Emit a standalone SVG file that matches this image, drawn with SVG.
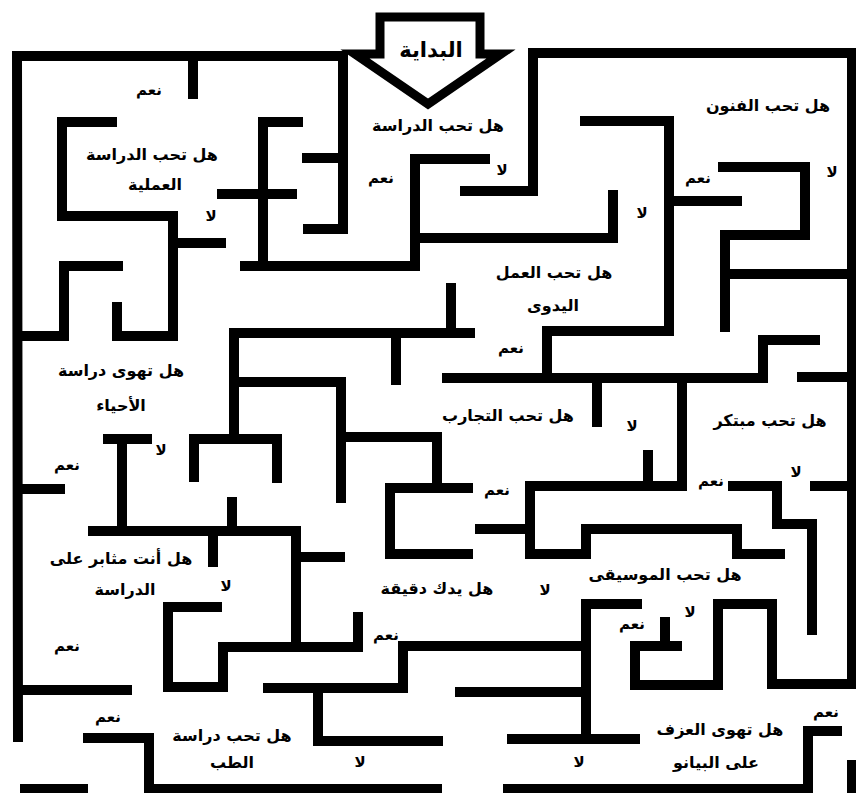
<svg xmlns="http://www.w3.org/2000/svg" width="856" height="793" viewBox="0 0 856 793">
<style>
.w{fill:none;stroke:#000;stroke-width:10;stroke-linecap:square;stroke-linejoin:miter}
.t{font-family:"DejaVu Sans","Noto Sans",sans-serif;font-weight:bold;font-size:16px;fill:#000;text-anchor:middle}
.s{font-size:15px}
.big{font-size:21px}
</style>
<rect width="856" height="793" fill="#fff"/>
<g id="arrow">
<polygon points="380,17 480,17 480,54 501,54 428,104 355,54 380,54" fill="none" stroke="#000" stroke-width="9" stroke-linejoin="miter"/>
<text class="t big" x="431" y="57">البداية</text>
</g>
<g id="walls">
<path class="w" d="M308 229 L343 229 L343 56 L17 56 L18 737"/>
<path class="w" d="M193 56 L193 94"/>
<path class="w" d="M112 122 L62 122 L62 216 L173 216 L173 336 L117 336 L117 307"/>
<path class="w" d="M173 243 L221 243"/>
<path class="w" d="M18 336 L64 336 L64 266 L118 266"/>
<path class="w" d="M298 122 L263 122 L263 266"/>
<path class="w" d="M245 266 L415 266 L415 159 L485 159"/>
<path class="w" d="M222 194 L292 194"/>
<path class="w" d="M307 158 L343 158"/>
<path class="w" d="M415 238 L613 238 L613 195"/>
<path class="w" d="M465 191 L533 191 L533 53 L852 53 L852 684 L772 684 L772 604 L718 604 L718 685 L635 685 L635 646 L677 646"/>
<path class="w" d="M665 646 L665 622"/>
<path class="w" d="M585 121 L669 121 L669 331 L547 331 L547 378"/>
<path class="w" d="M447 378 L763 378 L763 340 L815 340"/>
<path class="w" d="M669 201 L737 201"/>
<path class="w" d="M723 167 L805 167 L805 235 L725 235 L725 327"/>
<path class="w" d="M725 274 L852 274"/>
<path class="w" d="M802 377 L852 377"/>
<path class="w" d="M597 378 L597 422"/>
<path class="w" d="M682 378 L682 486 L530 486 L530 554 L586 554 L586 529 L737 529 L737 554 L780 554"/>
<path class="w" d="M480 529 L530 529"/>
<path class="w" d="M648 455 L648 486"/>
<path class="w" d="M733 486 L777 486 L777 524 L812 524 L812 630"/>
<path class="w" d="M815 486 L852 486"/>
<path class="w" d="M234 439 L234 333 L470 333"/>
<path class="w" d="M451 288 L451 333"/>
<path class="w" d="M396 333 L396 380"/>
<path class="w" d="M194 477 L194 439 L277 439 L277 478"/>
<path class="w" d="M234 382 L341 382 L341 498"/>
<path class="w" d="M341 437 L437 437 L437 488"/>
<path class="w" d="M468 488 L390 488 L390 554 L468 554"/>
<path class="w" d="M232 502 L232 531"/>
<path class="w" d="M108 439 L147 439"/>
<path class="w" d="M122 439 L122 531"/>
<path class="w" d="M93 531 L296 531 L296 647"/>
<path class="w" d="M223 647 L358 647 L358 617"/>
<path class="w" d="M296 557 L340 557"/>
<path class="w" d="M213 531 L213 562"/>
<path class="w" d="M18 489 L60 489"/>
<path class="w" d="M217 607 L168 607 L168 687 L223 687 L223 647"/>
<path class="w" d="M18 690 L127 690"/>
<path class="w" d="M88 738 L149 738 L149 789"/>
<path class="w" d="M25 789 L83 789"/>
<path class="w" d="M149 789 L437 789"/>
<path class="w" d="M508 789 L808 789 L808 731 L837 731"/>
<path class="w" d="M268 688 L403 688 L403 646 L586 646"/>
<path class="w" d="M318 688 L318 741 L438 741"/>
<path class="w" d="M460 692 L586 692"/>
<path class="w" d="M512 739 L635 739"/>
<path class="w" d="M637 604 L586 604 L586 737"/>
<path class="w" d="M852 765 L852 793"/>
</g>
<g id="labels">
<text class="t s" x="149" y="95">نعم</text>
<text class="t" x="152" y="160">هل تحب الدراسة</text>
<text class="t" x="155" y="190">العملية</text>
<text class="t s" x="211" y="221">لا</text>
<text class="t" x="438" y="131">هل تحب الدراسة</text>
<text class="t s" x="381" y="183">نعم</text>
<text class="t s" x="502" y="175">لا</text>
<text class="t" x="768" y="111">هل تحب الفنون</text>
<text class="t s" x="698" y="183">نعم</text>
<text class="t s" x="832" y="177">لا</text>
<text class="t s" x="642" y="218">لا</text>
<text class="t" x="554" y="278">هل تحب العمل</text>
<text class="t" x="553" y="311">اليدوى</text>
<text class="t s" x="511" y="353">نعم</text>
<text class="t" x="121" y="376">هل تهوى دراسة</text>
<text class="t" x="121" y="411">الأحياء</text>
<text class="t s" x="161" y="455">لا</text>
<text class="t s" x="67" y="470">نعم</text>
<text class="t" x="508" y="421">هل تحب التجارب</text>
<text class="t s" x="497" y="495">نعم</text>
<text class="t" x="770" y="426">هل تحب مبتكر</text>
<text class="t s" x="632" y="431">لا</text>
<text class="t s" x="711" y="486">نعم</text>
<text class="t s" x="796" y="477">لا</text>
<text class="t" x="121" y="564">هل أنت مثابر على</text>
<text class="t" x="125" y="595">الدراسة</text>
<text class="t s" x="226" y="591">لا</text>
<text class="t s" x="67" y="651">نعم</text>
<text class="t" x="437" y="594">هل يدك دقيقة</text>
<text class="t s" x="545" y="595">لا</text>
<text class="t s" x="386" y="640">نعم</text>
<text class="t" x="665" y="580">هل تحب الموسيقى</text>
<text class="t s" x="632" y="629">نعم</text>
<text class="t s" x="690" y="617">لا</text>
<text class="t s" x="108" y="722">نعم</text>
<text class="t" x="232" y="741">هل تحب دراسة</text>
<text class="t" x="232" y="768">الطب</text>
<text class="t s" x="360" y="767">لا</text>
<text class="t s" x="579" y="767">لا</text>
<text class="t" x="720" y="735">هل تهوى العزف</text>
<text class="t" x="716" y="768">على البيانو</text>
<text class="t s" x="826" y="717">نعم</text>
</g>
</svg>
